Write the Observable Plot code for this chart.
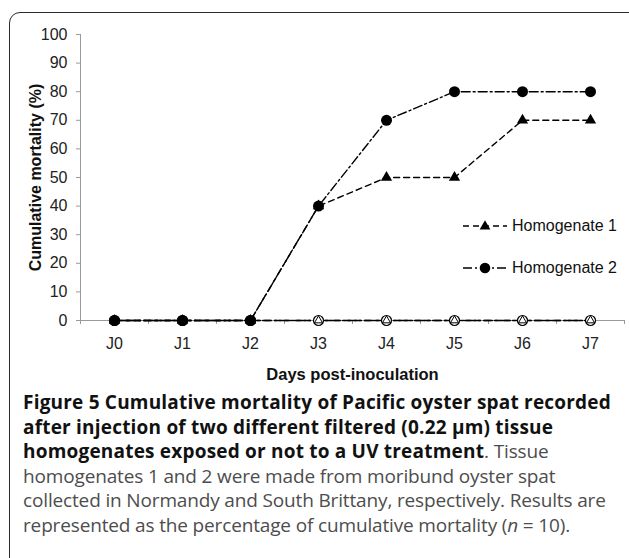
<!DOCTYPE html>
<html>
<head>
<meta charset="utf-8">
<script src="https://cdn.jsdelivr.net/npm/d3@7"></script>
<script src="https://cdn.jsdelivr.net/npm/@observablehq/plot@0.6"></script>
<style>
  html, body { margin: 0; padding: 0; background: #fff; }
  body { width: 629px; height: 558px; position: relative; overflow: hidden; }
  #frame { position: absolute; left: 9px; top: 12px; width: 660px; height: 620px;
           border: 1.6px solid #2a2a2a; border-radius: 11px; box-sizing: border-box; }
  #chart { position: absolute; left: 0; top: 0; }
  .leg { position: absolute; font-family: "Liberation Sans", Arial, sans-serif; font-size: 16px;
         color: #111; white-space: nowrap; display: flex; align-items: center; }
  .leg svg { margin-right: 3px; }
  #caption { position: absolute; left: 23px; top: 390px; width: 620px;
             font-family: "Open Sans", "Noto Sans", sans-serif; font-size: 19px; line-height: 24.5px;
             color: #4d4d4d; white-space: nowrap; letter-spacing: -0.15px; }
  #caption b { color: #111; font-weight: 700; letter-spacing: 0.2px; }
</style>
</head>
<body>
<div id="frame"></div>
<div id="chart"></div>
<div class="leg" id="leg1"></div>
<div class="leg" id="leg2"></div>
<div id="caption"><b>Figure 5 Cumulative mortality of Pacific oyster spat recorded<br>after injection of two different filtered (0.22 µm) tissue<br>homogenates exposed or not to a UV treatment</b>. Tissue<br>homogenates 1 and 2 were made from moribund oyster spat<br>collected in Normandy and South Brittany, respectively. Results are<br>represented as the percentage of cumulative mortality (<i>n</i> = 10).</div>
<script>
const days = ["J0", "J1", "J2", "J3", "J4", "J5", "J6", "J7"];
const hom1 = [0, 0, 0, 40, 50, 50, 70, 70];
const hom2 = [0, 0, 0, 40, 70, 80, 80, 80];
const hom1UV = [0, 0, 0, 0, 0, 0, 0, 0];
const hom2UV = [0, 0, 0, 0, 0, 0, 0, 0];
const yTicks = [0, 10, 20, 30, 40, 50, 60, 70, 80, 90, 100];
const seriesNames = ["Homogenate 1", "Homogenate 2"];
const yLabel = "Cumulative mortality (%)";
const xLabel = "Days post-inoculation";

const rows = vals => vals.map((v, i) => ({i, day: days[i], v}));
const d1 = rows(hom1), d2 = rows(hom2), d1uv = rows(hom1UV), d2uv = rows(hom2UV);
const xIdx = d3.range(days.length);
const bounds = d3.range(days.length + 1).map(i => i - 0.5);

const dash1 = "6,4";
const dash2 = "9,3,2,3";

const plot = Plot.plot({
  width: 629,
  height: 390,
  marginLeft: 80,
  marginRight: 5,
  marginTop: 34,
  marginBottom: 70,
  style: {fontFamily: "Liberation Sans, Arial, sans-serif", fontSize: "16px", color: "#222", background: "transparent"},
  x: {type: "linear", domain: [-0.5, days.length - 0.5]},
  y: {domain: [0, 100]},
  marks: [
    Plot.frame({anchor: "left", stroke: "#9a9a9a"}),
    Plot.ruleY([0], {stroke: "#9a9a9a"}),
    Plot.axisY({ticks: yTicks, tickSize: 4, stroke: "#9a9a9a", tickFormat: () => "", label: null}),
    Plot.axisY({ticks: yTicks, tickSize: 0, tickPadding: 13, fill: "#222", fontSize: 16, label: null}),
    Plot.axisX({ticks: bounds, tickSize: 4, stroke: "#9a9a9a", tickFormat: () => "", label: null}),
    Plot.axisX({ticks: xIdx, tickSize: 0, tickPadding: 17, tickFormat: i => days[i], fill: "#222", fontSize: 16, label: null}),
    Plot.text([yLabel], {frameAnchor: "left", textAnchor: "middle", rotate: -90, dx: -45, fontWeight: "bold", fontSize: 16, fill: "#111"}),
    Plot.text([xLabel], {frameAnchor: "bottom", dy: 59, fontWeight: "bold", fontSize: 16.5, fill: "#111"}),
    Plot.line(d1uv, {x: "i", y: "v", stroke: "#000", strokeWidth: 1.4, strokeDasharray: dash1}),
    Plot.line(d2uv, {x: "i", y: "v", stroke: "#000", strokeWidth: 1.4, strokeDasharray: dash2, strokeDashoffset: 5}),
    Plot.line(d1, {x: "i", y: "v", stroke: "#000", strokeWidth: 1.4, strokeDasharray: dash1}),
    Plot.line(d2, {x: "i", y: "v", stroke: "#000", strokeWidth: 1.4, strokeDasharray: dash2}),
    Plot.dot(d2uv, {x: "i", y: "v", r: 5, fill: "#fff", stroke: "#000", strokeWidth: 1.2}),
    Plot.dot(d1uv, {x: "i", y: "v", r: 3, symbol: "triangle", fill: "none", stroke: "#000", strokeWidth: 1}),
    Plot.dot(d1, {x: "i", y: "v", r: 4.2, symbol: "triangle", fill: "#000", stroke: "none"}),
    Plot.dot(d2, {x: "i", y: "v", r: 5.5, fill: "#000", stroke: "none"})
  ]
});
document.getElementById("chart").appendChild(plot);

function swatch(dash, symbol) {
  const ns = "http://www.w3.org/2000/svg";
  const svg = document.createElementNS(ns, "svg");
  svg.setAttribute("width", 46); svg.setAttribute("height", 14);
  const line = document.createElementNS(ns, "line");
  line.setAttribute("x1", 0); line.setAttribute("x2", 44);
  line.setAttribute("y1", 7); line.setAttribute("y2", 7);
  line.setAttribute("stroke", "#000"); line.setAttribute("stroke-width", 1.4);
  line.setAttribute("stroke-dasharray", dash);
  svg.appendChild(line);
  const p = document.createElementNS(ns, "path");
  p.setAttribute("d", d3.symbol(symbol === "triangle" ? d3.symbolTriangle : d3.symbolCircle, symbol === "triangle" ? 50 : 88)());
  p.setAttribute("transform", symbol === "triangle" ? "translate(22,7.5)" : "translate(22,7)");
  p.setAttribute("fill", "#000");
  svg.appendChild(p);
  return svg;
}
const l1 = document.getElementById("leg1");
l1.style.left = "463px"; l1.style.top = "217px";
l1.appendChild(swatch(dash1, "triangle"));
l1.appendChild(document.createTextNode(seriesNames[0]));
const l2 = document.getElementById("leg2");
l2.style.left = "463px"; l2.style.top = "259px";
l2.appendChild(swatch(dash2, "circle"));
l2.appendChild(document.createTextNode(seriesNames[1]));
</script>
</body>
</html>
